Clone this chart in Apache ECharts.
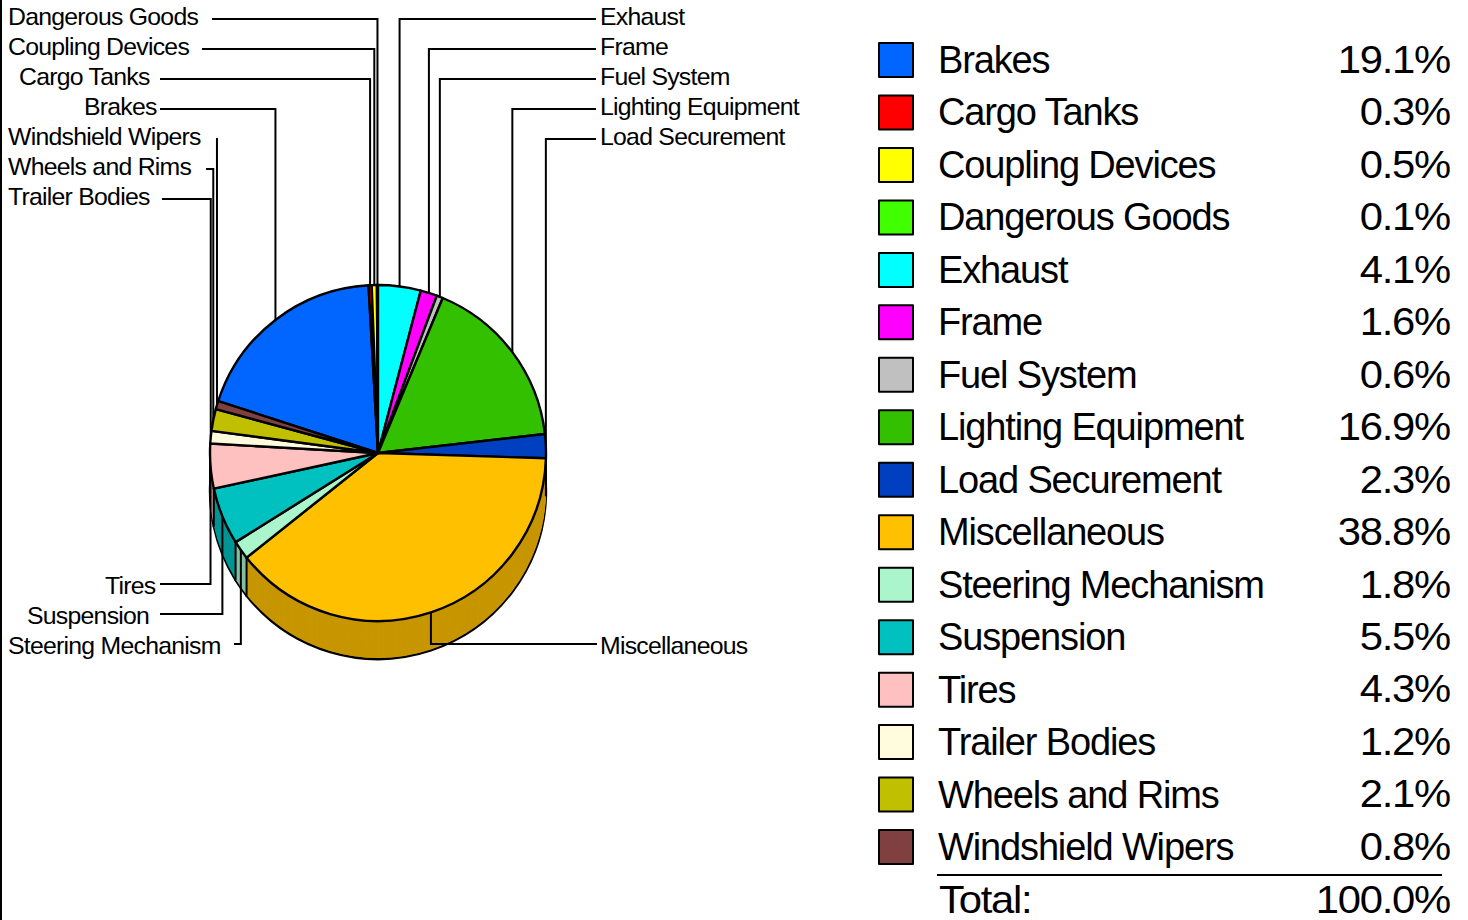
<!DOCTYPE html>
<html>
<head>
<meta charset="utf-8">
<title>Violations by category</title>
<script src="https://cdn.jsdelivr.net/npm/echarts@6/dist/echarts.min.js"></script>
<style>
html, body { margin: 0; padding: 0; background: #fff; }
#chart { width: 1468px; height: 920px; }
#chart text { letter-spacing: -0.03em; }
</style>
</head>
<body>
<div id="chart"></div>
<script>
"use strict";

var categories = ['Brakes', 'Cargo Tanks', 'Coupling Devices', 'Dangerous Goods', 'Exhaust', 'Frame',
    'Fuel System', 'Lighting Equipment', 'Load Securement', 'Miscellaneous', 'Steering Mechanism',
    'Suspension', 'Tires', 'Trailer Bodies', 'Wheels and Rims', 'Windshield Wipers'];
var percents = [19.1, 0.3, 0.5, 0.1, 4.1, 1.6, 0.6, 16.9, 2.3, 38.8, 1.8, 5.5, 4.3, 1.2, 2.1, 0.8];
var colors = ['#0066ff', '#ff0000', '#ffff00', '#40ff00', '#00ffff', '#ff00ff', '#c0c0c0', '#33c000',
    '#0040c0', '#ffc000', '#aaf5cc', '#00c0c0', '#ffc0c0', '#fffbdc', '#c0c000', '#804040'];
var totalLabel = 'Total:';
var totalValue = '100.0%';

// label placement, same order as categories
var labelX = [84, 19, 8, 8, 600, 600, 600, 600, 600, 600, 8, 27, 105, 8, 8, 8];
var labelY = [106, 76, 46, 16, 16, 46, 76, 106, 136, 645, 645, 615, 585, 196, 166, 136];
var leaderY = [109, 79, 49, 19, 19, 49, 79, 109, 139, 644, 644, 614, 584, 199, 169, 139];
var leaderEndX = [160, 160, 202, 212, 596, 596, 596, 596, 596, 597, 234, 160, 160, 162, 206, 216];

var CX = 378, CY = 453, R = 168, DEPTH = 38;
var START_ANGLE = 162;
var ROW_TOP = 59.5, ROW_STEP = 52.47;
var VALUE_STRETCH = 1.1;

function darken(hex) {
    var n = parseInt(hex.slice(1), 16);
    var r = Math.round((n >> 16 & 255) * 0.78);
    var g = Math.round((n >> 8 & 255) * 0.78);
    var b = Math.round((n & 255) * 0.78);
    return 'rgb(' + r + ',' + g + ',' + b + ')';
}

// clockwise angle from the top of the pie, in radians, for a cumulative percent
function angleAt(cum) {
    return (90 - START_ANGLE) * Math.PI / 180 + cum / 100 * 2 * Math.PI;
}

function rimPoint(cum) {
    var a = angleAt(cum);
    return [CX + R * Math.sin(a), CY - R * Math.cos(a)];
}

var cumStart = [];
percents.reduce(function (sum, v, i) {
    cumStart[i] = sum;
    return sum + v;
}, 0);

var pieData = categories.map(function (name, i) {
    return { name: name, value: percents[i], itemStyle: { color: colors[i] } };
});
var wallData = categories.map(function (name, i) {
    return { name: name, value: percents[i], itemStyle: { color: darken(colors[i]) } };
});

var series = [{
    type: 'pie',
    z: 5,
    center: [CX, CY],
    radius: [0, R],
    startAngle: START_ANGLE,
    avoidLabelOverlap: false,
    silent: true,
    data: pieData,
    itemStyle: { borderColor: '#000', borderWidth: 2.4 },
    label: {
        show: true,
        position: 'outer',
        formatter: '{b}',
        color: '#000',
        fontFamily: 'Liberation Sans',
        fontSize: 24.8
    },
    labelLine: { show: true, lineStyle: { color: '#000', width: 2 } },
    labelLayout: function (params) {
        var i = params.dataIndex;
        var p = rimPoint(cumStart[i] + percents[i] / 2);
        return {
            x: labelX[i],
            y: labelY[i],
            align: 'left',
            verticalAlign: 'middle',
            labelLinePoints: [p, [p[0], leaderY[i]], [leaderEndX[i], leaderY[i]]]
        };
    }
}];

// side wall: the same pie repeated downwards, darker, deepest first
for (var d = DEPTH; d >= 1; d--) {
    series.push({
        type: 'pie',
        z: 2,
        center: [CX, CY + d],
        radius: [0, R],
        startAngle: START_ANGLE,
        silent: true,
        data: wallData,
        label: { show: false },
        labelLine: { show: false },
        itemStyle: d === DEPTH ? { borderColor: '#000', borderWidth: 2.4 } : { borderWidth: 0 }
    });
}

function stretchedText(text, x, y, align) {
    return {
        type: 'text', x: x, y: y, z: 20, scaleX: VALUE_STRETCH,
        style: { text: text, font: '38px "Liberation Sans"', fill: '#000', textAlign: align, textVerticalAlign: 'middle' }
    };
}

var graphics = [
    { type: 'rect', shape: { x: 0, y: 0, width: 2, height: 920 }, style: { fill: '#000' }, z: 20 },
    { type: 'line', shape: { x1: 937, y1: 875, x2: 1442, y2: 875 }, style: { stroke: '#000', lineWidth: 2 }, z: 20 },
    { type: 'line', shape: { x1: CX - R, y1: CY, x2: CX - R, y2: CY + DEPTH }, style: { stroke: '#000', lineWidth: 2 }, z: 4 },
    { type: 'line', shape: { x1: CX + R, y1: CY, x2: CX + R, y2: CY + DEPTH }, style: { stroke: '#000', lineWidth: 2 }, z: 4 },
    stretchedText(totalLabel, 939, 900, 'left'),
    stretchedText(totalValue, 1450, 900, 'right')
];

percents.forEach(function (v, i) {
    graphics.push(stretchedText(v.toFixed(1) + '%', 1450, ROW_TOP + i * ROW_STEP, 'right'));
    // edge of each slice on the visible front of the wall
    var p = rimPoint(cumStart[i]);
    if (p[1] > CY) {
        graphics.push({
            type: 'line', z: 4,
            shape: { x1: p[0], y1: p[1], x2: p[0], y2: p[1] + DEPTH },
            style: { stroke: '#000', lineWidth: 2 }
        });
    }
});

var myChart = echarts.init(document.getElementById('chart'), null, { renderer: 'svg' });

myChart.setOption({
    animation: false,
    backgroundColor: '#fff',
    legend: {
        orient: 'vertical',
        left: 878,
        top: 41,
        padding: 0,
        selectedMode: false,
        data: categories,
        icon: 'rect',
        itemWidth: 34,
        itemHeight: 34,
        itemGap: ROW_STEP - 38,
        itemStyle: { borderColor: '#000', borderWidth: 2 },
        formatter: '{t|{name}}',
        textStyle: {
            rich: {
                t: {
                    color: '#000',
                    fontFamily: 'Liberation Sans',
                    fontSize: 38,
                    lineHeight: 38,
                    padding: [0, 0, 0, 20]
                }
            }
        }
    },
    graphic: { elements: graphics },
    series: series
});
</script>
</body>
</html>
